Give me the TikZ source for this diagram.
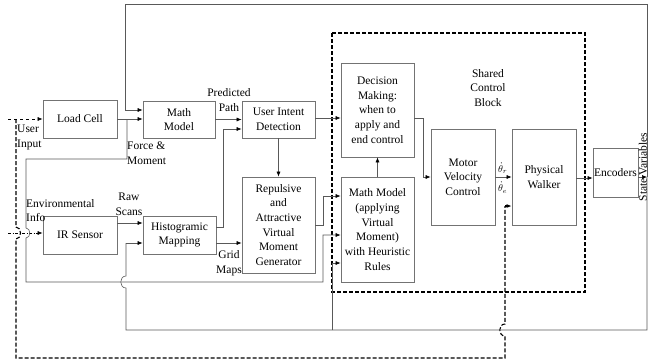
\documentclass[tikz,border=0pt]{standalone}
\usepackage{fontspec}
\setmainfont{Liberation Serif}
\usetikzlibrary{arrows.meta,calc}
\begin{document}
\begin{tikzpicture}[x=1pt,y=-1pt, font=\fontsize{11.5}{14.7}\selectfont,
  blk/.style={draw=black!55, line width=0.7pt, align=center, inner sep=1pt},
  ln/.style={draw=black!65, line width=0.6pt},
  arr/.style={ln, -{Latex[length=5pt,width=4pt,color=black]}},
  dsh/.style={draw=black, line width=1.1pt, dash pattern=on 4pt off 2pt},
  lbl/.style={align=center, inner sep=0pt},
  lbll/.style={align=left, inner sep=0pt},
  thl/.style={inner sep=0pt, font=\fontsize{10}{12}\selectfont}]
\useasboundingbox (0,0) rectangle (652,362);

% blocks
\node[blk,minimum width=74pt,minimum height=38pt] (lc) at (80,119) {Load Cell};
\node[blk,minimum width=72pt,minimum height=37pt] (mm) at (179,119.5) {Math\\Model};
\node[blk,minimum width=73pt,minimum height=37pt] (uid) at (278.5,119.5) {User Intent\\Detection};
\node[blk,minimum width=74pt,minimum height=38pt] (ir) at (80,235) {IR Sensor};
\node[blk,minimum width=73pt,minimum height=38pt] (hist) at (179.5,235) {Histogramic\\Mapping};
\node[blk,minimum width=73pt,minimum height=96pt] (rep) at (278.5,225) {Repulsive\\and\\Attractive\\Virtual\\Moment\\Generator};
\node[blk,minimum width=73pt,minimum height=94pt] (dec) at (377.5,110) {Decision\\Making:\\when to\\apply and\\end control};
\node[blk,minimum width=73pt,minimum height=105pt] (mmh) at (377.5,229.5) {Math Model\\(applying\\Virtual\\Moment)\\with Heuristic\\Rules};
\node[blk,minimum width=64pt,minimum height=96pt] (mvc) at (463,177) {Motor\\Velocity\\Control};
\node[blk,minimum width=64pt,minimum height=96pt] (pw) at (544,177) {Physical\\Walker};
\node[blk,minimum width=45pt,minimum height=49pt,inner sep=0pt] (enc) at (615.5,172.5) {Encoders};

% shared control block
\draw[dsh] (332,33) rectangle (585,292);
\node[lbl] (scb) at (488,88) {Shared\\Control\\Block};

% labels
\node[lbll,anchor=north west] (lui) at (17,125) {User\\Input};
\node[lbll,anchor=north west] (lfm) at (127,142) {Force \&\\Moment};
\node[lbl] (lpp) at (229,100) {Predicted\\Path};
\node[lbl] (lrs) at (129,204) {Raw\\Scans};
\node[lbll,anchor=north west] (lei) at (26,199) {Environmental\\Info};
\node[lbl] (lgm) at (229,263) {Grid\\Maps};
\node[thl,anchor=south west] (lthr) at (498,174) {$\dot{\theta}_r$};
\node[thl,anchor=north west] (lthe) at (498,182) {$\dot{\theta}_e$};
\node[lbl,rotate=90] (lsv) at (643,167) {State Variables};

% coordinates
\coordinate (ui) at (8,119);
\coordinate (ei) at (8,233);

% inputs
\draw[arr, draw=black, dashed] (ui) -- (lc.west);
\draw[arr, draw=black, dash pattern=on 3pt off 1.5pt on 1pt off 1.5pt] (ei) -- (ir.west |- 0,233);

% user feedback dashed line
\draw[dsh] (16,119) -- (16,227) .. controls (22,227) and (22,239) .. (16,239) -- (16,358) -- (505,358) -- (505,336) .. controls (498,336) and (498,324) .. (505,324) -- (505,206);
\draw[dsh, -{Latex[length=5pt,width=4pt]}] (505,206) -- (pw.west |- 0,206);

% forward path
\draw[arr] (lc.east) -- (mm.west |- lc.east);
\draw[arr] (mm.east) -- (uid.west);
\draw[arr] (ir.east |- 0,223) -- (hist.west |- 0,223);
\draw[arr] (hist.east |- 0,227) -- (223,227) -- (223,129) -- (uid.west |- 0,129);
\draw[arr] (hist.east |- 0,243) -- (rep.west |- 0,243);
\draw[arr] (uid.south) -- (rep.north);
\draw[arr] (uid.east |- 0,118) -- (dec.west |- 0,118);
\draw[arr] (rep.east |- 0,225) -- (323,225) -- (323,196) -- (mmh.west |- 0,196);
\draw[arr] (mmh.north) -- (dec.south);
\draw[arr] (dec.east |- 0,118) -- (423,118) -- (423,177) -- (mvc.west);
\draw[arr] (mvc.east) -- (pw.west);
\draw[arr] (pw.east |- 0,178) -- (enc.west |- 0,178);
\draw[arr] (enc.east |- 0,177) -- (647,177);

% force & moment loop
\draw[arr] (127,119) -- (127,159) -- (26,159) -- (26,228) .. controls (31,228) and (31,238) .. (26,238) -- (26,282) -- (323,282) -- (323,235) -- (mmh.west |- 0,235);

% state variable feedback
\draw[ln] (647,177) -- (647,4) -- (125,4) -- (125,110);
\draw[arr] (125,110) -- (mm.west |- 0,110);
\draw[ln] (647,177) -- (647,330) -- (126,330) -- (126,288) .. controls (119,288) and (119,276) .. (126,276) -- (126,243);
\draw[arr] (126,243) -- (hist.west |- 0,243);
\draw[arr] (332,330) -- (332,263) -- (mmh.west |- 0,263);
\end{tikzpicture}
\end{document}
